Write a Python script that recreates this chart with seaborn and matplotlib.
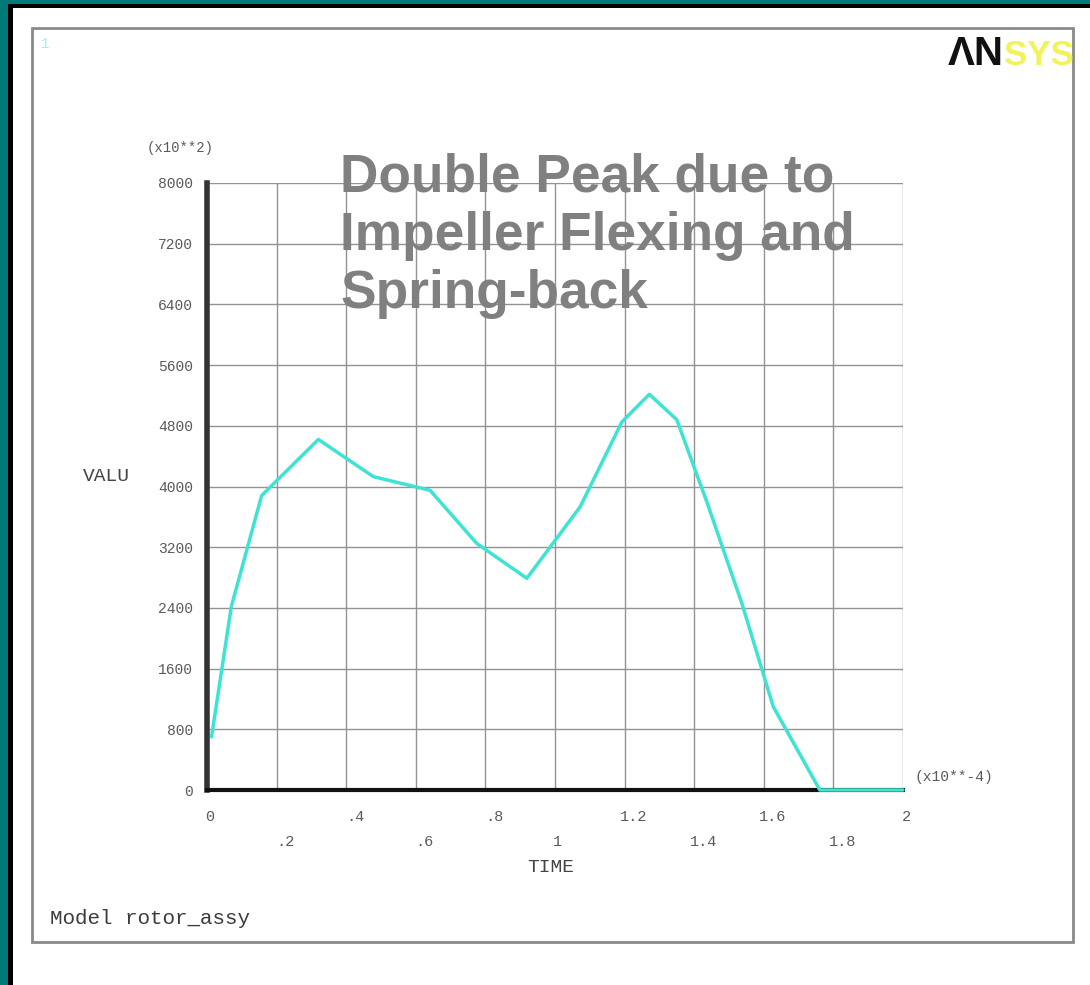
import matplotlib
matplotlib.use("Agg")
import matplotlib.pyplot as plt
import matplotlib.transforms as mtransforms
from matplotlib.patches import Rectangle
import seaborn as sns
import pandas as pd

# Rotor assembly response history (TIME in 1e-4 s, VALU in 1e2 units)
time_vals = [0.013, 0.070, 0.157, 0.320, 0.478, 0.641, 0.775, 0.919, 1.072,
             1.192, 1.271, 1.350, 1.436, 1.537, 1.627, 1.761, 2.000]
valu_vals = [700, 2420, 3880, 4620, 4130, 3950, 3250, 2790, 3730,
             4850, 5215, 4880, 3800, 2460, 1100, 0, 0]

y_ticks = [0, 800, 1600, 2400, 3200, 4000, 4800, 5600, 6400, 7200, 8000]
x_ticks = [0, 0.2, 0.4, 0.6, 0.8, 1.0, 1.2, 1.4, 1.6, 1.8, 2.0]
x_labels = ["0", ".2", ".4", ".6", ".8", "1", "1.2", "1.4", "1.6", "1.8", "2"]

title_lines = ["Double Peak due to", "Impeller Flexing and", "Spring-back"]

df = pd.DataFrame({"TIME": time_vals, "VALU": valu_vals})

sns.set_style("white")
W, H = 1090, 985
fig = plt.figure(figsize=(W / 100, H / 100), dpi=100)
fig.patch.set_facecolor("white")

def fx(px):
    return px / W

def fy(py):
    return 1 - py / H

# window border: teal outer band with black inner band (left and top)
fig.patches.append(Rectangle((0, 0), fx(8), 1, transform=fig.transFigure,
                             facecolor="#007a78", edgecolor="none", zorder=0))
fig.patches.append(Rectangle((fx(8), 0), fx(5), 1, transform=fig.transFigure,
                             facecolor="black", edgecolor="none", zorder=0))
fig.patches.append(Rectangle((0, fy(4)), 1, 4 / H, transform=fig.transFigure,
                             facecolor="#007a78", edgecolor="none", zorder=0))
fig.patches.append(Rectangle((fx(8), fy(8)), 1, 4 / H, transform=fig.transFigure,
                             facecolor="black", edgecolor="none", zorder=0))

# graphics window frame
fig.patches.append(Rectangle((fx(32), fy(942)), fx(1073 - 32), (942 - 28) / H,
                             transform=fig.transFigure, facecolor="white",
                             edgecolor="#8a8a8a", linewidth=2, zorder=1))

ax = fig.add_axes([fx(207), fy(790), fx(903 - 207), (790 - 183) / H])
ax.set_facecolor("none")
ax.set_zorder(2)

sns.lineplot(data=df, x="TIME", y="VALU", ax=ax, color="#3ee3d3",
             linewidth=2.5, zorder=5, clip_on=False)

ax.set_xlim(0, 2)
ax.set_ylim(0, 8000)
ax.set_xticks(x_ticks)
ax.set_yticks(y_ticks)
ax.grid(True, color="#939393", linewidth=1)
ax.set_axisbelow(True)
for s in ["top", "right"]:
    ax.spines[s].set_visible(False)
ax.spines["left"].set_linewidth(4)
ax.spines["left"].set_color("#333333")
ax.spines["bottom"].set_linewidth(3)
ax.spines["bottom"].set_color("#111111")
ax.spines["bottom"].set_zorder(3)

mono = ["Liberation Mono", "DejaVu Sans Mono"]
lab_col = "#5a5a5a"

ax.tick_params(axis="x", direction="out", length=11, width=1, color="#939393",
               labelbottom=False)
ax.tick_params(axis="y", direction="out", length=4, width=1, color="#939393",
               pad=6, labelsize=10.5, labelcolor=lab_col)
ax.set_yticklabels([str(v) for v in y_ticks], family=mono)

# staggered x tick labels
for i, (xv, lab) in enumerate(zip(x_ticks, x_labels)):
    row = 817 if i % 2 == 0 else 842
    off = 3 if lab in ("0", "1", "2") else 9
    trans = mtransforms.blended_transform_factory(ax.transData, fig.transFigure)
    trans = trans + mtransforms.ScaledTranslation(off / 100, 0, fig.dpi_scale_trans)
    ax.text(xv, fy(row), lab, transform=trans, ha="center", va="center",
            family=mono, fontsize=11, color=lab_col)

ax.set_xlabel("")
ax.set_ylabel("")
fig.text(fx(106), fy(476), "VALU", family=mono, fontsize=14, color="#444444",
         ha="center", va="center")
fig.text(fx(551), fy(867), "TIME", family=mono, fontsize=14, color="#444444",
         ha="center", va="center")
fig.text(fx(180), fy(148), "(x10**2)", family=mono, fontsize=10, color=lab_col,
         ha="center", va="center")
fig.text(fx(954), fy(777), "(x10**-4)", family=mono, fontsize=10.5, color=lab_col,
         ha="center", va="center")
fig.text(fx(50), fy(919), "Model rotor_assy", family=mono, fontsize=15,
         color="#3c3c3c", ha="left", va="center")

# window number and logo
fig.text(fx(45), fy(44), "1", family=mono, fontsize=10, color="#a8eeee",
         ha="center", va="center")
fig.text(fx(948), fy(65), "ΛN", family=["Liberation Sans", "DejaVu Sans"],
         fontsize=29, weight="bold", color="#111111", ha="left", va="baseline")
fig.text(fx(1004), fy(65), "SYS", family=["Liberation Sans", "DejaVu Sans"],
         fontsize=25, weight="bold", color="#f2f25c", ha="left", va="baseline")

# annotation
for k, line in enumerate(title_lines):
    fig.text(fx(340), fy(192 + 58 * k), line, family=["Liberation Sans", "DejaVu Sans"],
             fontsize=38.3, weight="bold", color="#808080", ha="left",
             va="baseline", zorder=10)

fig.savefig("out.png", dpi=100, facecolor="white")
